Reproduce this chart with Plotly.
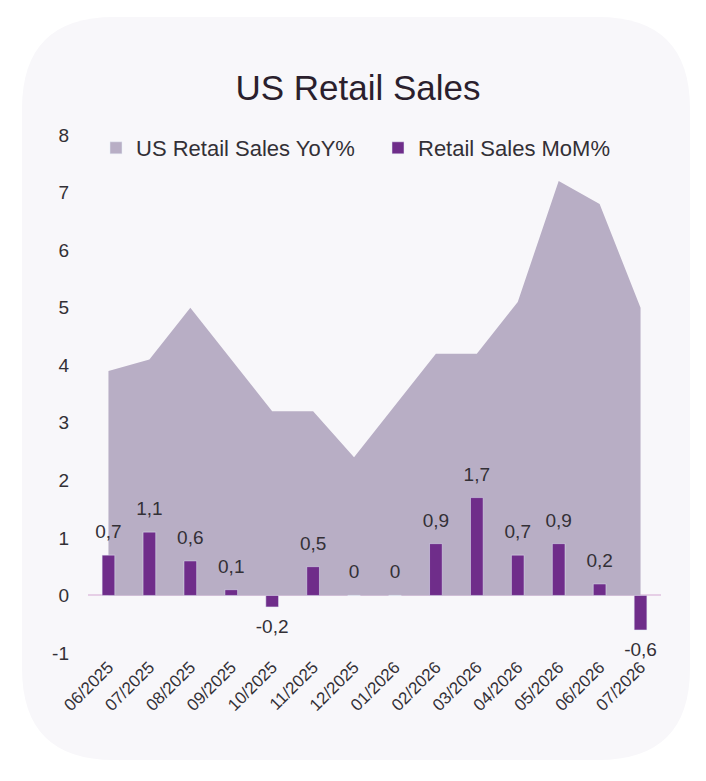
import plotly.graph_objs as go

months = ['06/2025', '07/2025', '08/2025', '09/2025', '10/2025', '11/2025', '12/2025',
          '01/2026', '02/2026', '03/2026', '04/2026', '05/2026', '06/2026', '07/2026']
yoy = [3.9, 4.1, 5.0, 4.1, 3.2, 3.2, 2.4, 3.3, 4.2, 4.2, 5.1, 7.2, 6.8, 5.0]
mom = [0.7, 1.1, 0.6, 0.1, -0.2, 0.5, 0, 0, 0.9, 1.7, 0.7, 0.9, 0.2, -0.6]
y_ticks = [-1, 0, 1, 2, 3, 4, 5, 6, 7, 8]

# the page body has an 8px margin, so lay out in window pixels minus 8
off = 8
W, H = 706 - off, 781 - off
ml, mr, mt, mb = 88 - off, 45, 135 - off, 128
pw, ph = W - ml - mr, H - mt - mb


def px(x):
    return (x - off - ml) / pw


def py(y):
    return (H - mb - (y - off)) / ph


# rounded card behind the chart, in paper coords
x0, x1, y0, y1, r = 22, 690, 17, 760, 92
card = (f"M {px(x0 + r)},{py(y0)} L {px(x1 - r)},{py(y0)} "
        f"Q {px(x1)},{py(y0)} {px(x1)},{py(y0 + r)} "
        f"L {px(x1)},{py(y1 - r)} Q {px(x1)},{py(y1)} {px(x1 - r)},{py(y1)} "
        f"L {px(x0 + r)},{py(y1)} Q {px(x0)},{py(y1)} {px(x0)},{py(y1 - r)} "
        f"L {px(x0)},{py(y0 + r)} Q {px(x0)},{py(y0)} {px(x0 + r)},{py(y0)} Z")

area_col = '#b8aec5'
bar_col = '#6f2d8a'
text_col = '#333036'
font = 'Liberation Sans, Arial, sans-serif'

fig = go.Figure()

# area (lower layer)
fig.add_trace(go.Scatter(x=months, y=yoy,
                         name='US Retail Sales YoY%',
                         mode='lines',
                         line=dict(width=0, color=area_col),
                         fill='tozeroy',
                         fillcolor=area_col,
                         showlegend=False))

# legend-only square for the area
fig.add_trace(go.Bar(x=[None], y=[None], name='US Retail Sales YoY%',
                     marker_color=area_col, xaxis='x2', yaxis='y2'))

# bars on an overlaid axis so they sit above the area
fig.add_trace(go.Bar(x=months, y=mom,
                     name='Retail Sales MoM%',
                     marker_color=bar_col,
                     xaxis='x2', yaxis='y2'))

# value labels; the invisible marker pushes the text off the bar end
fig.add_trace(go.Scatter(x=months, y=mom,
                         mode='markers+text',
                         marker=dict(size=18, color='rgba(0,0,0,0)'),
                         text=[str(v).replace('.', ',') for v in mom],
                         textposition=['bottom center' if v < 0 else 'top center' for v in mom],
                         textfont=dict(size=19, color=text_col, family=font),
                         hoverinfo='skip',
                         showlegend=False, cliponaxis=False,
                         xaxis='x2', yaxis='y2'))

fig.update_layout(width=W, height=H,
                  margin=dict(l=ml, r=mr, t=mt, b=mb, autoexpand=False),
                  paper_bgcolor='white',
                  plot_bgcolor='rgba(0,0,0,0)',
                  font=dict(family=font, color=text_col),
                  bargap=0.69,
                  title=dict(text='US Retail Sales', xref='container', x=(358 - off) / W, xanchor='center',
                             y=1 - (88 - off) / H, yanchor='middle',
                             font=dict(size=35, color='#2b1f2d', family=font)),
                  legend=dict(orientation='h', x=px(96), xanchor='left',
                              y=py(148), yanchor='middle',
                              font=dict(size=22, color=text_col),
                              bgcolor='rgba(0,0,0,0)', itemwidth=30,
                              entrywidth=237, entrywidthmode='pixels'),
                  shapes=[dict(type='path', path=card, xref='paper', yref='paper',
                               fillcolor='#f8f7fa', line=dict(width=0), layer='below')],
                  xaxis=dict(type='category', range=[-0.5, 13.5], tickangle=-45,
                             showgrid=False, showline=False, ticks='',
                             tickfont=dict(size=17, color=text_col)),
                  yaxis=dict(range=[-1, 8], tickvals=y_ticks,
                             ticktext=[str(t) for t in y_ticks], showgrid=False,
                             zeroline=True, zerolinecolor='#e6cfe6', zerolinewidth=1.5,
                             ticks='', ticklabelstandoff=18,
                             tickfont=dict(size=19, color=text_col)),
                  xaxis2=dict(type='category', overlaying='x', matches='x', visible=False),
                  yaxis2=dict(overlaying='y', matches='y', visible=False))

fig.write_html("out.html")
